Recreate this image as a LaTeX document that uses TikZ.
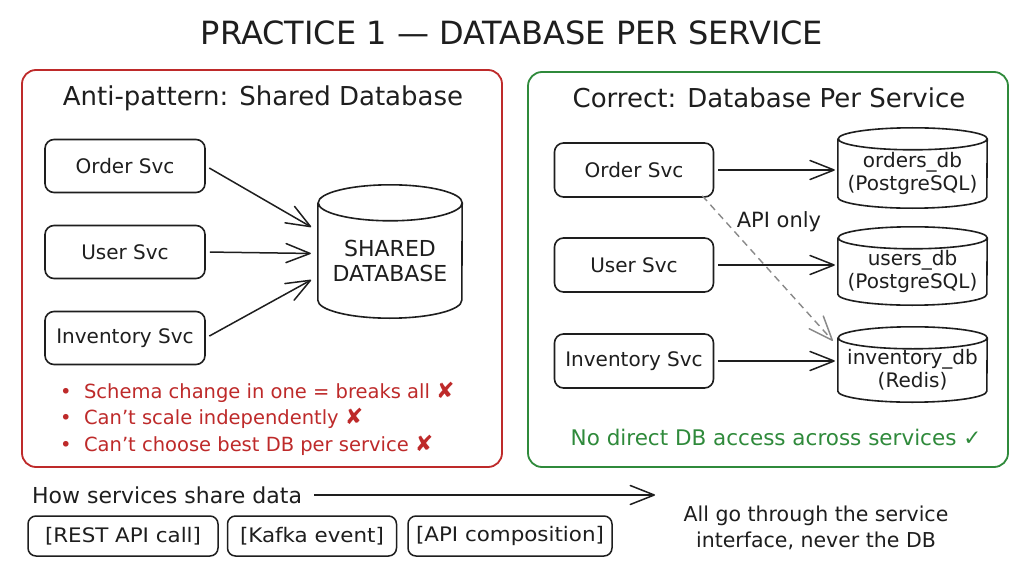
\documentclass[tikz,border=0pt]{standalone}
\usepackage{fontspec}
\setmainfont{DejaVu Sans}
\usetikzlibrary{arrows.meta}
\definecolor{redc}{HTML}{BE2A2A}
\definecolor{greenc}{HTML}{2F8A3B}
\definecolor{inkc}{HTML}{1E1E1E}
\definecolor{dashc}{HTML}{8A8A8A}
\newcommand\dbcyl[3]{% node, rx, ry
  \draw[dbline] (#1.north west) -- ([yshift=#3pt]#1.south west)
    arc[start angle=180,end angle=360,x radius=#2pt,y radius=#3pt]
    -- (#1.north east)
    arc[start angle=0,end angle=180,x radius=#2pt,y radius=#3pt]
    arc[start angle=180,end angle=360,x radius=#2pt,y radius=#3pt];}
\newcommand\bigx{{\fontsize{22}{22}\selectfont ✘}}
\newcommand\wide[1]{\scalebox{1.07}[1]{#1}}
\tikzset{barbtip/.tip={Straight Barb[length=24pt,width=19pt,line width=1.5pt,round]}}
\begin{document}
\begin{tikzpicture}[x=1pt,y=-1pt,
  panel/.style={line width=1.8pt, rounded corners=14pt},
  svc/.style={draw=inkc, line width=1.6pt, rounded corners=9pt, minimum width=160pt,
     minimum height=53pt, inner sep=0pt, font=\fontsize{20}{22}\selectfont, text=inkc},
  dbnode/.style={inner sep=0pt, align=center, font=\fontsize{20}{23}\selectfont, text=inkc},
  dbline/.style={draw=inkc, line width=1.6pt},
  conn/.style={draw=inkc, line width=1.5pt, -barbtip, shorten <=4pt, shorten >=3pt},
  dconn/.style={draw=dashc, line width=1.4pt, dash pattern=on 7pt off 5pt, -barbtip},
  ptitle/.style={font=\fontsize{26}{30}\selectfont, text=inkc},
  bullet/.style={anchor=west, font=\fontsize{19.5}{22}\selectfont, text=redc, inner sep=0pt},
  chip/.style={draw=inkc, line width=1.5pt, rounded corners=8pt, minimum height=40pt,
     inner sep=0pt, font=\fontsize{20}{22}\selectfont, text=inkc},
  plain/.style={font=\fontsize{20.5}{26}\selectfont, text=inkc, inner sep=0pt}
]
\useasboundingbox[fill=white] (0,0) rectangle (1024,572);

% main title
\node[font=\fontsize{32}{36}\selectfont, text=inkc] (title) at (512,33) {PRACTICE 1 — DATABASE PER SERVICE};

% ---------- left panel ----------
\draw[panel, draw=redc] (22,70) rectangle (502,467);
\node[ptitle] (ltitle) at (263,98) {Anti-pattern: Shared Database};
\node[svc] (lo) at (125,166) {Order Svc};
\node[svc] (lu) at (125,252) {User Svc};
\node[svc] (li) at (125,338) {Inventory Svc};
\node[dbnode, minimum width=144pt, minimum height=115pt, font=\fontsize{22}{25}\selectfont] (sdb) at (390,260.5) {SHARED\\DATABASE};
\dbcyl{sdb}{72}{18}
\draw[conn] (lo.east) -- ([yshift=32pt,xshift=-4pt]sdb.west);
\draw[conn] (lu.east) -- ([yshift=7pt,xshift=-4pt]sdb.west);
\draw[conn] (li.east) -- ([yshift=-18pt,xshift=-4pt]sdb.west);
\node[bullet] (b1) at (60,392) {•\ \ Schema change in one = breaks all \bigx};
\node[bullet] (b2) at (60,418) {•\ \ Can't scale independently \bigx};
\node[bullet] (b3) at (60,445) {•\ \ Can't choose best DB per service \bigx};

% ---------- right panel ----------
\draw[panel, draw=greenc] (528,72) rectangle (1008,467);
\node[ptitle] (rtitle) at (769,98) {Correct: Database Per Service};
\node[svc, minimum width=159pt, minimum height=54pt] (ro) at (634,170) {Order Svc};
\node[svc, minimum width=159pt, minimum height=54pt] (ru) at (634,265) {User Svc};
\node[svc, minimum width=159pt, minimum height=54pt] (ri) at (634,361) {Inventory Svc};
\node[dbnode, minimum width=149pt, minimum height=69pt] (odb) at (912.5,173.5) {orders\_db\\(PostgreSQL)};
\dbcyl{odb}{74.5}{11}
\node[dbnode, minimum width=149pt, minimum height=67pt] (udb) at (912.5,271.5) {users\_db\\(PostgreSQL)};
\dbcyl{udb}{74.5}{11}
\node[dbnode, minimum width=149pt, minimum height=64pt] (idb) at (912.5,370) {inventory\_db\\(Redis)};
\dbcyl{idb}{74.5}{11}
\draw[conn] (ro.east) -- (ro.east -| odb.west);
\draw[conn] (ru.east) -- (ru.east -| udb.west);
\draw[conn] (ri.east) -- (ri.east -| idb.west);
\coordinate (apiend) at ([xshift=-5pt,yshift=-3pt]idb.north west);
\draw[dconn] ([xshift=-12pt,yshift=2pt]ro.south east) -- (apiend);
\node[plain, font=\fontsize{21}{26}\selectfont] (api) at (779,222) {API only};
\node[font=\fontsize{21.5}{24}\selectfont, text=greenc] (ok) at (776,437) {No direct DB access across services ✓};

% ---------- bottom ----------
\node[plain, anchor=west, font=\fontsize{22}{26}\selectfont] (how) at (32,495) {How services share data};
\coordinate (howend) at (655,495);
\draw[draw=inkc, line width=1.5pt, -barbtip, shorten <=12pt] (how.east) -- (howend);
\node[chip, minimum width=190pt] (c1) at (123,536) {\wide{[REST API call]}};
\node[chip, minimum width=169pt] (c2) at (312,536) {\wide{[Kafka event]}};
\node[chip, minimum width=204pt] (c3) at (510,536) {\wide{[API composition]}};
\node[plain, align=center] (note) at (816,528) {All go through the service\\interface, never the DB};
\end{tikzpicture}
\end{document}
